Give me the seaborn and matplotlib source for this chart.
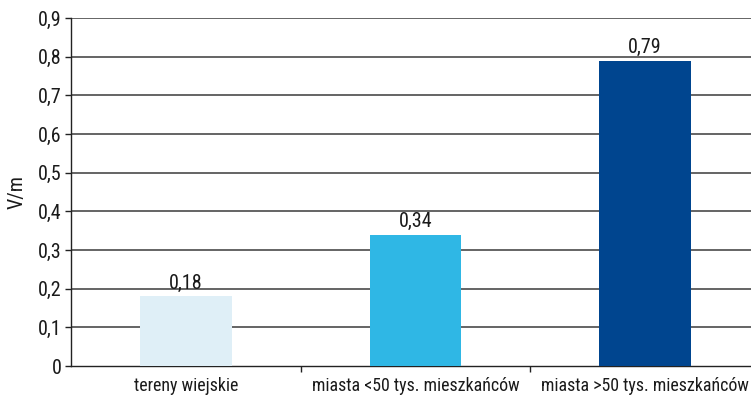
import matplotlib
matplotlib.use("Agg")
import matplotlib.pyplot as plt
import seaborn as sns
import pandas as pd
from matplotlib.ticker import FixedLocator, FuncFormatter
from matplotlib import font_manager as fm

categories = ["tereny wiejskie", "miasta <50 tys. mieszkańców", "miasta >50 tys. mieszkańców"]
values = [0.18, 0.34, 0.79]
value_labels = ["0,18", "0,34", "0,79"]
colors = ["#dfeff7", "#2fb7e5", "#00458f"]
yticks = [0, 0.1, 0.2, 0.3, 0.4, 0.5, 0.6, 0.7, 0.8, 0.9]

sns.set_theme(style="white")

names = {f.name for f in fm.fontManager.ttflist}
fam = None
for n in ["Roboto Condensed", "Liberation Sans Narrow", "Open Sans Condensed", "Roboto"]:
    if n in names:
        fam = n
        break
plt.rcParams['font.family'] = [fam, 'DejaVu Sans'] if fam else ['DejaVu Sans']

condensed = fam in ("Roboto Condensed", "Liberation Sans Narrow", "Open Sans Condensed")
FS = 14.5 if condensed else 13
FS_CAT = 12.9 if condensed else 12

df = pd.DataFrame({"cat": categories, "val": values})

fig = plt.figure(figsize=(7.51, 3.99), dpi=100)
ax = fig.add_axes([71/751, 33/399, 689/751, 348/399])

sns.barplot(data=df, x="cat", y="val", hue="cat", palette=colors, width=0.4,
            legend=False, ax=ax, saturation=1, zorder=3, linewidth=0)

ax.set_ylim(0, 0.9)
ax.set_xlim(-0.5, 2.5)
ax.set_yticks(yticks)
ax.yaxis.set_major_formatter(FuncFormatter(lambda v, p: ("%.1f" % v).replace(".", ",") if v != 0 else "0"))
for y in yticks[1:]:
    ax.axhline(y, color="#3a3a3a", linewidth=1.1, zorder=1)

for i, (v, lab) in enumerate(zip(values, value_labels)):
    ax.text(i, v + 0.01, lab, ha="center", va="bottom", fontsize=FS, color="#1a1a1a")

ax.set_xlabel("")
ax.set_ylabel("V/m", fontsize=FS, color="#1a1a1a", labelpad=8)
ax.tick_params(axis="y", which="major", length=4, width=1, color="#222", labelsize=FS,
               labelcolor="#1a1a1a", pad=3, left=True)
ax.tick_params(axis="x", which="major", length=0, labelsize=FS_CAT, labelcolor="#1a1a1a", pad=8)
ax.xaxis.set_minor_locator(FixedLocator([0.5, 1.5]))
ax.tick_params(axis="x", which="minor", length=4, width=1, color="#222", bottom=True)

for s in ["top", "right"]:
    ax.spines[s].set_visible(False)
for s in ["left", "bottom"]:
    ax.spines[s].set_color("#222")
    ax.spines[s].set_linewidth(1)

fig.savefig("out.png", dpi=100)
